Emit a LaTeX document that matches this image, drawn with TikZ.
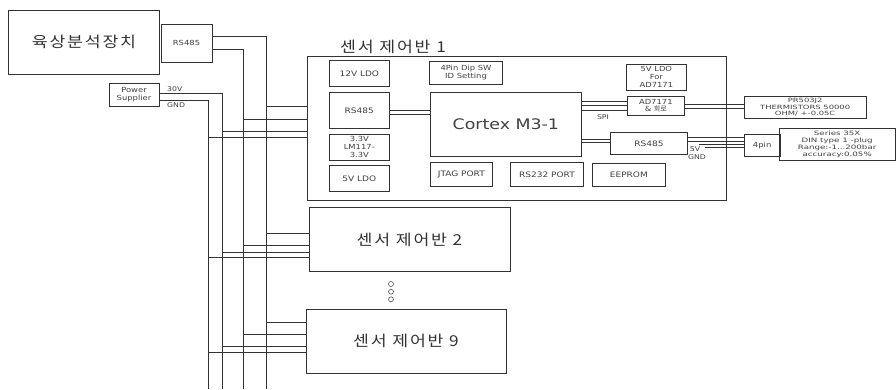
\documentclass[tikz,border=0pt]{standalone}
\usepackage{fontspec}
\setmainfont{DejaVu Sans}[FakeStretch=1.2]
\newfontfamily\kor{Noto Sans CJK KR}[FakeStretch=1.15,LetterSpace=12]
\newfontfamily\korn{Noto Sans CJK KR}
\newfontfamily\wide{DejaVu Sans}[FakeStretch=1.45]

\tikzset{
  blk/.style={draw=black!80, line width=0.8pt, inner sep=0pt, align=center,
    text=black!75, font=\fontsize{7.5}{8}\selectfont},
  sblk/.style={blk, font=\fontsize{7}{8}\selectfont},
  tblk/.style={blk, font=\wide\fontsize{5.8}{6.4}\selectfont},
  board/.style={blk, text=black!80, font=\fontsize{15}{17}\selectfont\kor},
  wire/.style={draw=black!80, line width=0.7pt},
  lbl/.style={inner sep=0pt, text=black!75, font=\fontsize{6.5}{7}\selectfont},
  dot/.style={draw=black!70, circle, minimum size=5pt, inner sep=0pt, line width=0.6pt},
}

\begin{document}
\begin{tikzpicture}[x=1pt, y=-1pt]
  \useasboundingbox (0,0) rectangle (896,389);

  % analyser and its RS485 port
  \node[board, minimum width=151pt, minimum height=64pt] (dev) at (84,42) {육상분석장치};
  \node[sblk, minimum width=51pt, minimum height=38pt] (rsm) at (186.5,43) {RS485};

  % power supplier
  \node[blk, font=\fontsize{7}{8.5}\selectfont, minimum width=50pt, minimum height=23pt]
    (pwr) at (134,94.5) {Power\\Supplier};
  \node[lbl, anchor=west] (v30) at (167,89) {30V};
  \node[lbl, anchor=west] (gnd) at (167,105) {GND};

  % bus lines down the left side
  \coordinate (busA) at (266,389);
  \coordinate (busB) at (243,389);
  \coordinate (busV) at (222,389);
  \coordinate (busG) at (208,389);
  \draw[wire] (rsm.east |- 0,36) -| (busA);
  \draw[wire] (rsm.east |- 0,49) -| (busB);
  \draw[wire] (pwr.east |- 0,93) -| (busV);
  \draw[wire] (pwr.east |- 0,100) -| (busG);

  % sensor boards
  \node[blk, minimum width=419pt, minimum height=144.5pt] (b1) at (516.5,128.25) {};
  \node[inner sep=0pt, text=black!80, anchor=west, font=\fontsize{15}{17}\selectfont\kor]
    (b1t) at (340,47) {센서 제어반 1};
  \node[board, minimum width=201pt, minimum height=64pt] (b2) at (409.5,239.5) {센서 제어반 2};
  \node[board, minimum width=200pt, minimum height=64pt] (b9) at (406,341) {센서 제어반 9};
  \foreach \i/\y in {1/284, 2/291.7, 3/299.3}
    \node[dot] (d\i) at (391,\y) {};

  % taps from the bus into each board
  \foreach \b/\ya/\yb/\yv/\yg in {b1/106/119/131/137.7, b2/233.3/245.7/252.3/257.7,
                                  b9/322/334.7/346.7/352.3} {
    \draw[wire] (busA |- 0,\ya) -- (\b.west |- 0,\ya);
    \draw[wire] (busB |- 0,\yb) -- (\b.west |- 0,\yb);
    \draw[wire] (busV |- 0,\yv) -- (\b.west |- 0,\yv);
    \draw[wire] (busG |- 0,\yg) -- (\b.west |- 0,\yg);
  }

  % inside board 1
  \node[blk, minimum width=60pt, minimum height=26pt] (ldo12) at (359.3,73.7) {12V LDO};
  \node[blk, minimum width=60pt, minimum height=36pt] (rsl) at (359.3,110.3) {RS485};
  \node[sblk, minimum width=60pt, minimum height=26.7pt] (lm117) at (359.3,147.3)
    {3.3V\\LM117-\\3.3V};
  \node[blk, minimum width=60pt, minimum height=26.7pt] (ldo5) at (359.3,178.3) {5V LDO};
  \node[sblk, minimum width=73.4pt, minimum height=22.6pt] (dip) at (466,73)
    {4Pin Dip SW\\ID Setting};
  \node[blk, font=\fontsize{14.5}{16}\selectfont, minimum width=151.7pt, minimum height=64.4pt]
    (cpu) at (505.85,124.5) {Cortex M3-1};
  \node[blk, minimum width=62.7pt, minimum height=23.3pt] (jtag) at (461.35,174.35) {JTAG PORT};
  \node[blk, minimum width=72.6pt, minimum height=23.3pt] (rs232) at (547,174.35) {RS232 PORT};
  \node[blk, minimum width=72.3pt, minimum height=22.7pt] (eep) at (628.85,174.65) {EEPROM};
  \node[sblk, minimum width=59.3pt, minimum height=26.7pt] (ldo5a) at (656.35,77.35)
    {5V LDO\\For\\AD7171};
  \node[blk, font=\fontsize{7}{7.6}\selectfont, minimum width=57pt, minimum height=18.3pt]
    (adc) at (655.8,105.85) {AD7171\\\& {\korn 회로}};
  \node[blk, minimum width=76.6pt, minimum height=21.3pt] (rsr) at (649,143.35) {RS485};

  % RS485 - Cortex
  \draw[wire] (rsl.east |- 0,110) -- (cpu.west |- 0,110);
  \draw[wire] (rsl.east |- 0,114) -- (cpu.west |- 0,114);

  % SPI to AD7171
  \foreach \y in {101, 105.7, 110}
    \draw[wire] (cpu.east |- 0,\y) -- (adc.west |- 0,\y);
  \node[lbl] (spi) at (603,117.5) {SPI};

  % Cortex - RS485
  \draw[wire] (cpu.east |- 0,139) -- (rsr.west |- 0,139);
  \draw[wire] (cpu.east |- 0,142.3) -- (rsr.west |- 0,142.3);

  % sensors outside
  \node[tblk, minimum width=121.7pt, minimum height=21.6pt] (therm) at (805.15,107.5)
    {PR503J2\\THERMISTORS 50000\\OHM/ +-0.05C};
  \node[sblk, minimum width=35.7pt, minimum height=22.7pt] (pin4) at (762.15,145.35) {4pin};
  \node[tblk, font=\wide\fontsize{6}{7}\selectfont, minimum width=115.7pt, minimum height=31.7pt]
    (sens) at (837.15,144.15) {Series 35X\\DIN type 1 -plug\\Range:-1...200bar\\accuracy:0.05\%};

  \draw[wire] (adc.east |- 0,104.3) -- (therm.west |- 0,104.3);
  \draw[wire] (adc.east |- 0,108.3) -- (therm.west |- 0,108.3);
  \draw[wire] (rsr.east |- 0,137.7) -- (pin4.west |- 0,137.7);
  \draw[wire] (rsr.east |- 0,140.9) -- (pin4.west |- 0,140.9);
  \coordinate (c5v) at (699,144.3);
  \coordinate (cgnd) at (705,147.7);
  \draw[wire] (c5v) -- (pin4.west |- c5v);
  \draw[wire] (cgnd) -- (pin4.west |- cgnd);
  \node[lbl] (v5) at (695,149.5) {5V};
  \node[lbl] (gndr) at (697,157) {GND};
\end{tikzpicture}
\end{document}
